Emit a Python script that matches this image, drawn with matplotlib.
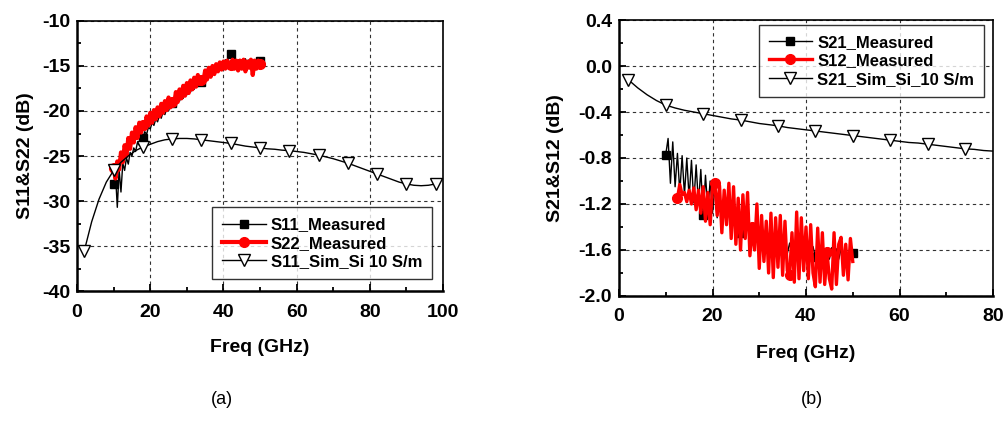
import numpy as np
import matplotlib.pyplot as plt
from matplotlib.ticker import MultipleLocator, FormatStrFormatter

plt.rcParams['font.family'] = ['Liberation Sans', 'DejaVu Sans']
plt.rcParams['font.weight'] = 'bold'
plt.rcParams['axes.unicode_minus'] = False

# ---------- (a) reflection ----------
f_meas_a = np.arange(10, 50.01, 0.5)
s11_meas = [-28.1, -27.0, -30.7, -26.5, -29.0, -25.8, -26.6, -25.2, -25.9, -24.6,
            -25.0, -24.1, -24.5, -23.5, -23.8, -22.9, -23.0, -22.3, -22.6, -21.8,
            -22.0, -21.3, -21.6, -20.9, -21.2, -20.5, -20.8, -20.1, -20.4, -19.7,
            -20.0, -19.3, -19.1, -19.0, -19.3, -18.7, -18.9, -18.3, -18.6, -18.0,
            -18.2, -17.7, -17.9, -17.4, -17.6, -17.0, -17.3, -16.7, -16.8, -16.4,
            -16.6, -16.1, -16.3, -15.8, -16.0, -15.5, -15.7, -15.2, -15.4, -14.9,
            -15.0, -14.3, -14.8, -13.8, -13.7, -14.6, -14.2, -15.0, -14.3, -14.9,
            -14.4, -15.1, -14.2, -14.8, -14.3, -14.9, -14.4, -15.0, -14.3, -14.8,
            -14.5]
s22_meas = [-26.3, -27.5, -25.6, -26.5, -24.6, -25.7, -23.8, -25.0, -23.0, -24.2,
            -22.4, -23.5, -21.8, -23.0, -21.3, -22.4, -21.6, -22.0, -20.6, -21.6,
            -20.2, -21.3, -19.9, -20.9, -19.6, -20.6, -19.2, -20.2, -18.9, -19.9,
            -18.5, -19.6, -19.0, -19.3, -17.9, -19.0, -17.6, -18.6, -17.2, -18.3,
            -16.9, -18.0, -16.6, -17.6, -16.3, -17.3, -16.0, -17.0, -16.6, -16.7,
            -15.5, -16.5, -15.2, -16.2, -15.0, -15.9, -14.8, -15.6, -14.6, -15.4,
            -14.5, -15.3, -14.4, -15.2, -14.9, -14.3, -15.3, -14.4, -15.5, -14.4,
            -15.3, -14.3, -15.6, -14.5, -15.2, -14.3, -16.0, -14.4, -15.3, -14.4,
            -14.8]
f_sim_a = np.arange(2, 98.01, 2)
s11_sim = [-35.5, -32.3, -29.8, -27.9, -26.6, -25.7, -25.0, -24.4, -24.0, -23.7,
           -23.4, -23.2, -23.1, -23.05, -23.05, -23.1, -23.2, -23.3, -23.4, -23.5,
           -23.6, -23.75, -23.9, -24.0, -24.1, -24.2, -24.25, -24.35, -24.4, -24.5,
           -24.6, -24.75, -24.9, -25.1, -25.3, -25.55, -25.8, -26.1, -26.4, -26.7,
           -27.0, -27.3, -27.6, -27.9, -28.1, -28.25, -28.3, -28.25, -28.1]

# ---------- (b) transmission ----------
f_s21 = np.arange(10, 50.01, 0.5)
s21_meas = [-0.77, -0.63, -1.02, -0.66, -1.05, -0.76, -1.10, -0.78, -1.12, -0.80,
            -1.15, -0.82, -1.19, -0.86, -1.20, -0.90, -1.30, -0.95, -1.25, -1.00,
            -1.28, -1.05, -1.32, -1.10, -1.35, -1.15, -1.38, -1.20, -1.40, -1.25,
            -1.42, -1.28, -1.45, -1.32, -1.48, -1.36, -1.50, -1.40, -1.53, -1.42,
            -1.55, -1.45, -1.56, -1.47, -1.58, -1.48, -1.60, -1.50, -1.60, -1.52,
            -1.62, -1.53, -1.63, -1.54, -1.64, -1.55, -1.64, -1.55, -1.65, -1.56,
            -1.65, -1.56, -1.66, -1.57, -1.66, -1.57, -1.67, -1.58, -1.67, -1.58,
            -1.68, -1.58, -1.68, -1.59, -1.68, -1.59, -1.68, -1.60, -1.67, -1.60,
            -1.63]
f_s12 = np.arange(12.5, 50.01, 0.5)
s12_meas = [-1.15, -1.03, -1.12, -1.10, -1.18, -1.08, -1.20, -1.06, -1.25, -1.08,
            -1.28, -1.05, -1.35, -1.10, -1.38, -1.05, -1.02, -1.30, -1.04, -1.45,
            -1.08, -1.38, -1.02, -1.50, -1.05, -1.55, -1.15, -1.60, -1.12, -1.50,
            -1.10, -1.65, -1.40, -1.60, -1.20, -1.76, -1.30, -1.70, -1.35, -1.80,
            -1.28, -1.84, -1.32, -1.75, -1.30, -1.82, -1.35, -1.78, -1.82, -1.45,
            -1.88, -1.27, -1.85, -1.32, -1.78, -1.40, -1.85, -1.38, -1.80, -1.92,
            -1.41, -1.88, -1.45, -1.90, -1.62, -1.85, -1.94, -1.45, -1.90, -1.55,
            -1.49, -1.82, -1.55, -1.86, -1.50, -1.70]
f_sim_b = np.arange(2, 80.01, 2)
s21_sim = [-0.12, -0.19, -0.25, -0.30, -0.34, -0.365, -0.385, -0.40, -0.415, -0.43,
           -0.445, -0.46, -0.47, -0.485, -0.50, -0.51, -0.52, -0.535, -0.545, -0.555,
           -0.565, -0.575, -0.585, -0.595, -0.605, -0.615, -0.625, -0.635, -0.645, -0.655,
           -0.665, -0.67, -0.68, -0.69, -0.70, -0.71, -0.72, -0.725, -0.735, -0.74]

fig = plt.figure(figsize=(10.07, 4.37), dpi=100)
ax1 = fig.add_axes([0.0765, 0.334, 0.3635, 0.618])
ax2 = fig.add_axes([0.6147, 0.3227, 0.3714, 0.6315])


def style_axes(ax):
    ax.grid(True, which='major', color='#333333', linestyle=(0, (3, 3)), linewidth=0.8)
    ax.set_axisbelow(True)
    ax.tick_params(which='both', direction='in', top=False, right=False,
                   labelsize=14, width=1.3)
    ax.tick_params(which='major', length=5)
    ax.tick_params(which='minor', length=3)
    ax.tick_params(axis='x', which='major', pad=9)
    ax.tick_params(axis='y', which='major', pad=5)
    for side in ['left', 'bottom']:
        ax.spines[side].set_linewidth(1.8)
    for side in ['top', 'right']:
        ax.spines[side].set_linewidth(1.2)
    for lab in ax.get_xticklabels() + ax.get_yticklabels():
        lab.set_fontweight('bold')


# (a)
ax1.plot(f_meas_a, s11_meas, color='black', lw=1.0, marker='s', ms=6,
         markevery=16, label='S11_Measured')
ax1.plot(f_meas_a, s22_meas, color='red', lw=3.0, marker='o', ms=7,
         markevery=16, label='S22_Measured')
ax1.plot(f_sim_a, s11_sim, color='black', lw=1.0, marker='v', ms=8,
         mfc='white', mec='black', markevery=4, label='S11_Sim_Si 10 S/m')
ax1.set_xlim(0, 100)
ax1.set_ylim(-40, -10)
ax1.xaxis.set_major_locator(MultipleLocator(20))
ax1.xaxis.set_minor_locator(MultipleLocator(10))
ax1.yaxis.set_major_locator(MultipleLocator(5))
ax1.yaxis.set_minor_locator(MultipleLocator(2.5))
style_axes(ax1)
ax1.set_ylabel('S11&S22 (dB)', fontsize=14, fontweight='bold', labelpad=5.5)
ax1.set_xlabel('Freq (GHz)', fontsize=14, fontweight='bold', labelpad=13)
leg1 = ax1.legend(loc='lower right', bbox_to_anchor=(0.97, 0.044), fancybox=False,
                  edgecolor='black', prop={'weight': 'bold', 'size': 12},
                  handlelength=2.6, borderpad=0.6, labelspacing=0.2,
                  handletextpad=0.3, borderaxespad=0)
leg1.get_frame().set_linewidth(1.0)

# (b)
ax2.plot(f_s21, s21_meas, color='black', lw=1.0, marker='s', ms=6,
         markevery=16, label='S21_Measured')
ax2.plot(f_s12, s12_meas, color='red', lw=2.4, marker='o', ms=7,
         markevery=16, label='S12_Measured')
ax2.plot(f_sim_b, s21_sim, color='black', lw=1.0, marker='v', ms=8,
         mfc='white', mec='black', markevery=4, label='S21_Sim_Si_10 S/m')
ax2.set_xlim(0, 80)
ax2.set_ylim(-2.0, 0.4)
ax2.xaxis.set_major_locator(MultipleLocator(20))
ax2.xaxis.set_minor_locator(MultipleLocator(10))
ax2.yaxis.set_major_locator(MultipleLocator(0.4))
ax2.yaxis.set_minor_locator(MultipleLocator(0.2))
ax2.yaxis.set_major_formatter(FormatStrFormatter('%.1f'))
style_axes(ax2)
ax2.set_ylabel('S21&S12 (dB)', fontsize=14, fontweight='bold', labelpad=10)
ax2.set_xlabel('Freq (GHz)', fontsize=14, fontweight='bold', labelpad=14)
leg2 = ax2.legend(loc='upper right', bbox_to_anchor=(0.976, 0.982), fancybox=False,
                  edgecolor='black', prop={'weight': 'bold', 'size': 12},
                  handlelength=2.6, borderpad=0.6, labelspacing=0.2,
                  handletextpad=0.3, borderaxespad=0)
leg2.get_frame().set_linewidth(1.0)

fig.text(0.2205, 0.085, '(a)', ha='center', va='center', fontsize=13, fontweight='normal')
fig.text(0.806, 0.085, '(b)', ha='center', va='center', fontsize=13, fontweight='normal')

plt.savefig('out.png', dpi=100)
